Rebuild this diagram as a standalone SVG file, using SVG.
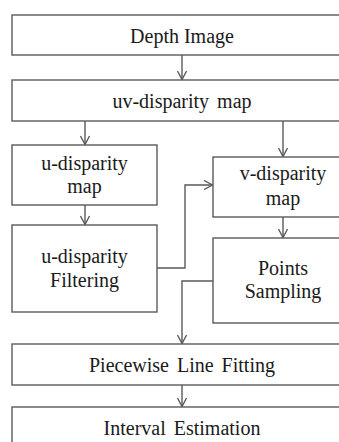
<svg xmlns="http://www.w3.org/2000/svg" width="339" height="442" viewBox="0 0 339 442">
<defs>
<style>
.box{fill:#fff;stroke:#5a5a5a;stroke-width:1.4}
.t{font-family:"Liberation Serif","Times New Roman",serif;font-size:20px;fill:#1a1a1a;text-anchor:middle}
.c{fill:none;stroke:#5a5a5a;stroke-width:1.4}
</style>
<marker id="ah" viewBox="0 0 10 10" refX="9.5" refY="5" markerWidth="10" markerHeight="10" markerUnits="userSpaceOnUse" orient="auto">
<path d="M1,0.5 L9.5,5 L1,9.5" fill="none" stroke="#5a5a5a" stroke-width="1.4"/>
</marker>
</defs>
<rect width="339" height="442" fill="#fff"/>
<g id="depth"><rect class="box" x="12" y="15" width="345" height="40"/><text class="t" x="182" y="43">Depth Image</text></g>
<g id="uv"><rect class="box" x="12" y="80" width="345" height="41"/><text class="t" x="182" y="108" word-spacing="3">uv-disparity map</text></g>
<g id="umap"><rect class="box" x="12" y="145" width="145" height="60"/><text class="t" x="84.5" y="170">u-disparity</text><text class="t" x="84.5" y="193">map</text></g>
<g id="ufilt"><rect class="box" x="12" y="225" width="145" height="87"/><text class="t" x="84.5" y="263">u-disparity</text><text class="t" x="84.5" y="287">Filtering</text></g>
<g id="vmap"><rect class="box" x="213" y="157" width="145" height="60"/><text class="t" x="283" y="180">v-disparity</text><text class="t" x="283" y="205">map</text></g>
<g id="points"><rect class="box" x="213" y="238" width="145" height="85"/><text class="t" x="283" y="275">Points</text><text class="t" x="283" y="298">Sampling</text></g>
<g id="piecewise"><rect class="box" x="12" y="344" width="345" height="41"/><text class="t" x="182" y="372" word-spacing="3">Piecewise Line Fitting</text></g>
<g id="interval"><rect class="box" x="12" y="407" width="345" height="60"/><text class="t" x="182" y="435" word-spacing="3">Interval Estimation</text></g>
<g id="connectors">
<line class="c" x1="182" y1="55" x2="182" y2="79.5" marker-end="url(#ah)"/>
<line class="c" x1="85" y1="121" x2="85" y2="144.5" marker-end="url(#ah)"/>
<line class="c" x1="283" y1="121" x2="283" y2="156.5" marker-end="url(#ah)"/>
<line class="c" x1="85" y1="205" x2="85" y2="224.5" marker-end="url(#ah)"/>
<line class="c" x1="283" y1="217" x2="283" y2="237.5" marker-end="url(#ah)"/>
<polyline class="c" points="157,268 185,268 185,185 212.5,185" marker-end="url(#ah)"/>
<polyline class="c" points="213,281 182,281 182,343.5" marker-end="url(#ah)"/>
<line class="c" x1="182" y1="385" x2="182" y2="406.5" marker-end="url(#ah)"/>
</g>
</svg>
